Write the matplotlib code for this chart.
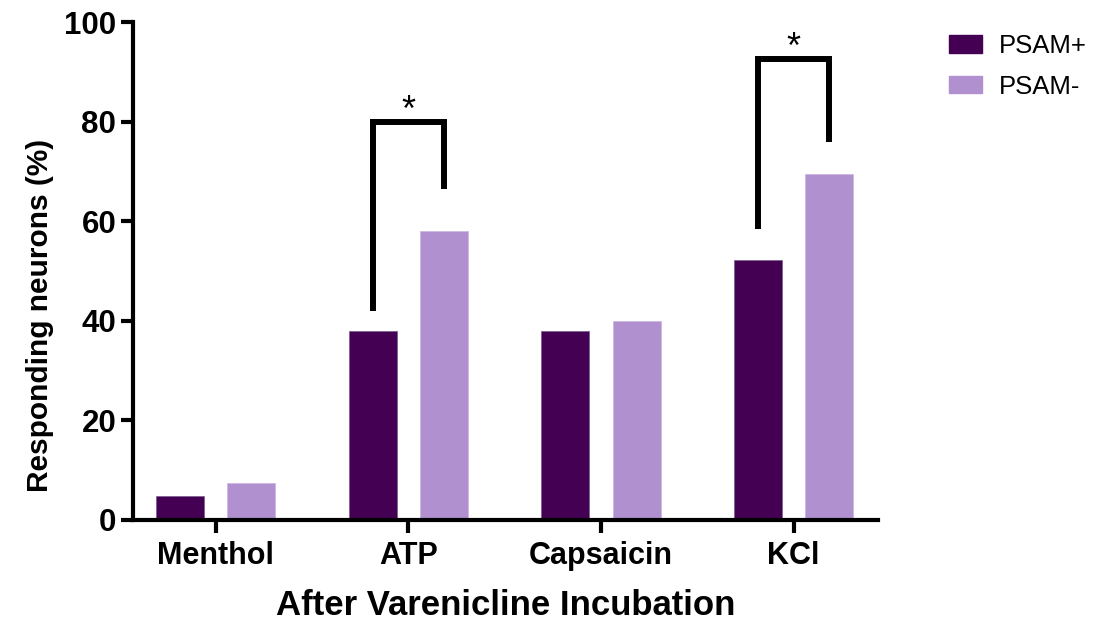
import numpy as np
import matplotlib.pyplot as plt
from matplotlib.patches import Patch

plt.rcParams['font.family'] = ['Liberation Sans', 'DejaVu Sans']

categories = ['Menthol', 'ATP', 'Capsaicin', 'KCl']
psam_plus = [4.8, 38.0, 38.0, 52.3]
psam_minus = [7.4, 58.0, 40.0, 69.4]
series_names = ['PSAM+', 'PSAM-']
colors = ['#440154', '#B190D0']

# significance brackets: (category index, top, left leg bottom, right leg bottom)
sig_cats = [1, 3]
sig_top = [80, 92.5]
sig_left_bottom = [42, 58.5]
sig_right_bottom = [66.5, 76]

fig = plt.figure(figsize=(10.98, 6.24), dpi=100)
ax = fig.add_axes([0.121, 0.1667, 0.679, 0.798])

x = np.arange(len(categories))
off = 0.185
w = 0.25
ax.bar(x - off, psam_plus, w, color=colors[0], edgecolor='#7a5a8a', linewidth=0.5)
ax.bar(x + off, psam_minus, w, color=colors[1], edgecolor='#c9b3e0', linewidth=0.5)

for i, c in enumerate(sig_cats):
    xl, xr = c - off, c + off
    ax.plot([xl, xl, xr, xr], [sig_left_bottom[i], sig_top[i], sig_top[i], sig_right_bottom[i]],
            color='black', lw=4.3, solid_joinstyle='miter', solid_capstyle='butt')
    ax.text(c, sig_top[i] + 0.2, '*', ha='center', va='baseline', fontsize=26)

ax.set_xlim(-0.43, 3.44)
ax.set_ylim(0, 100)
ax.set_yticks([0, 20, 40, 60, 80, 100])
ax.set_xticks(x)
ax.set_xticklabels(categories)
for s in ['top', 'right']:
    ax.spines[s].set_visible(False)
for s in ['left', 'bottom']:
    ax.spines[s].set_linewidth(3)
ax.tick_params(width=3, length=9)
ax.tick_params(axis='y', labelsize=22.5, pad=3)
ax.tick_params(axis='x', labelsize=22, pad=6)
for lab in ax.get_xticklabels() + ax.get_yticklabels():
    lab.set_fontweight('bold')
ax.set_ylabel('Responding neurons (%)', fontsize=21.5, fontweight='bold')
ax.yaxis.set_label_coords(-0.106, 0.41)
ax.set_xlabel('After Varenicline Incubation', fontsize=25, fontweight='bold', labelpad=13)

handles = [Patch(color=colors[0]), Patch(color=colors[1])]
fig.legend(handles, series_names, loc='upper left', bbox_to_anchor=(949 / 1098, 1 - 34 / 624),
           frameon=False, fontsize=18.5, handlelength=1.3, handleheight=0.65,
           handletextpad=0.65, labelspacing=0.65, borderpad=0, borderaxespad=0)

fig.savefig('out.png', dpi=100)
